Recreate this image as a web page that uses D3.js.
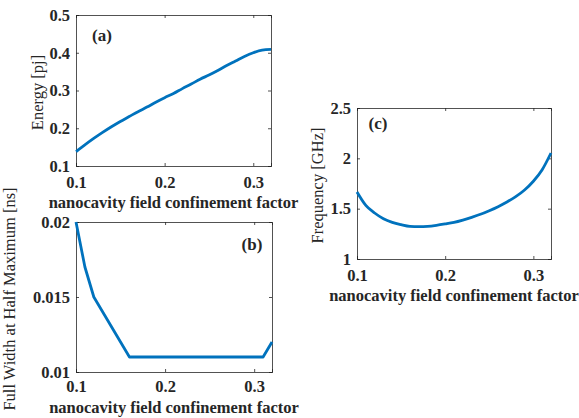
<!DOCTYPE html>
<html>
<head>
<meta charset="utf-8">
<script src="https://cdn.jsdelivr.net/npm/d3@7"></script>
<style>
  body { margin: 0; background: #fff; }
  svg text { font-family: "Liberation Serif", "Times New Roman", serif; fill: #262626; }
</style>
</head>
<body>
<div id="chart"></div>
<script>
const lineColor = '#0072bd';

// confinement factor samples
const gamma = [0.10, 0.11, 0.12, 0.13, 0.14, 0.15, 0.16, 0.17, 0.18, 0.19, 0.20, 0.21,
               0.22, 0.23, 0.24, 0.25, 0.26, 0.27, 0.28, 0.29, 0.30, 0.31, 0.32];
const energy = [0.138, 0.156, 0.173, 0.189, 0.204, 0.218, 0.231, 0.244, 0.256, 0.269, 0.281, 0.292,
                0.305, 0.317, 0.330, 0.341, 0.353, 0.366, 0.378, 0.390, 0.400, 0.407, 0.409];
const frequency = [1.666, 1.533, 1.457, 1.400, 1.364, 1.341, 1.324, 1.321, 1.324, 1.334, 1.348, 1.364,
                   1.387, 1.414, 1.444, 1.480, 1.520, 1.566, 1.619, 1.685, 1.772, 1.887, 2.053];
const fwhmGamma = [0.10, 0.11, 0.12, 0.16, 0.31, 0.32];
const fwhm = [0.020, 0.017, 0.015, 0.011, 0.011, 0.012];

const xTicks = [0.1, 0.2, 0.3];
const xLabel = 'nanocavity field confinement factor';

const panels = [
  {box: [76, 15, 271, 166], xs: gamma, ys: energy, yDomain: [0.1, 0.5], yTicks: [0.1, 0.2, 0.3, 0.4, 0.5],
   yLabel: 'Energy [pj]', yLabelX: 37, tag: '(a)', tagPos: [102, 35], tickPad: 10, xLabelOff: 42},
  {box: [76, 222, 272, 372], xs: fwhmGamma, ys: fwhm, yDomain: [0.01, 0.02], yTicks: [0.01, 0.015, 0.02],
   yLabel: 'Full Width at Half Maximum [ns]', yLabelX: 9, tag: '(b)', tagPos: [252, 244], tickPad: 8, xLabelOff: 41},
  {box: [357, 108, 551, 259], xs: gamma, ys: frequency, yDomain: [1, 2.5], yTicks: [1, 1.5, 2, 2.5],
   yLabel: 'Frequency [GHz]', yLabelX: 317, tag: '(c)', tagPos: [378, 123], tickPad: 10, xLabelOff: 42}
];

const svg = d3.select('#chart').append('svg')
  .attr('width', 579)
  .attr('height', 418);

panels.forEach(function(p) {
  const [x0, y0, x1, y1] = p.box;
  const x = d3.scaleLinear().domain([0.1, 0.32]).range([x0, x1]);
  const y = d3.scaleLinear().domain(p.yDomain).range([y1, y0]);
  const g = svg.append('g');

  // axes with inward ticks (MATLAB style)
  const fmt = d3.format('~g');
  g.append('g').attr('transform', 'translate(0,' + y1 + ')')
    .call(d3.axisBottom(x).tickValues(xTicks).tickSize(-3).tickPadding(p.tickPad).tickFormat(fmt));
  g.append('g').attr('transform', 'translate(0,' + y0 + ')')
    .call(d3.axisTop(x).tickValues(xTicks).tickSize(-3).tickFormat(''));
  g.append('g').attr('transform', 'translate(' + x0 + ',0)')
    .call(d3.axisLeft(y).tickValues(p.yTicks).tickSize(-3).tickPadding(6).tickFormat(fmt));
  g.append('g').attr('transform', 'translate(' + x1 + ',0)')
    .call(d3.axisRight(y).tickValues(p.yTicks).tickSize(-3).tickFormat(''));

  g.selectAll('.domain').attr('stroke', '#262626').attr('stroke-width', 0.8);
  g.selectAll('.tick line').attr('stroke', '#262626').attr('stroke-width', 0.8);
  g.selectAll('.tick text')
    .style('font-family', '"Liberation Serif", serif')
    .style('font-size', '16.5px')
    .style('font-weight', 'bold')
    .attr('fill', '#262626');

  const pts = p.xs.map(function(d, i) { return [d, p.ys[i]]; });
  const curve = p.xs.length > 10 ? d3.curveMonotoneX : d3.curveLinear;
  g.append('path')
    .datum(pts)
    .attr('fill', 'none')
    .attr('stroke', lineColor)
    .attr('stroke-width', 2.8)
    .attr('stroke-linejoin', 'round')
    .attr('d', d3.line().curve(curve).x(function(d) { return x(d[0]); }).y(function(d) { return y(d[1]); }));

  g.append('text')
    .attr('x', (x0 + x1) / 2)
    .attr('y', y1 + p.xLabelOff)
    .attr('text-anchor', 'middle')
    .style('font-size', '16.5px')
    .style('font-weight', 'bold')
    .text(xLabel);

  g.append('text')
    .attr('transform', 'translate(' + p.yLabelX + ',' + ((y0 + y1) / 2 + 2) + ') rotate(-90)')
    .attr('text-anchor', 'middle')
    .attr('dy', '0.35em')
    .style('font-size', '16.5px')
    .text(p.yLabel);

  g.append('text')
    .attr('x', p.tagPos[0])
    .attr('y', p.tagPos[1])
    .attr('text-anchor', 'middle')
    .attr('dy', '0.35em')
    .style('font-size', '17px')
    .style('font-weight', 'bold')
    .text(p.tag);
});
</script>
</body>
</html>
